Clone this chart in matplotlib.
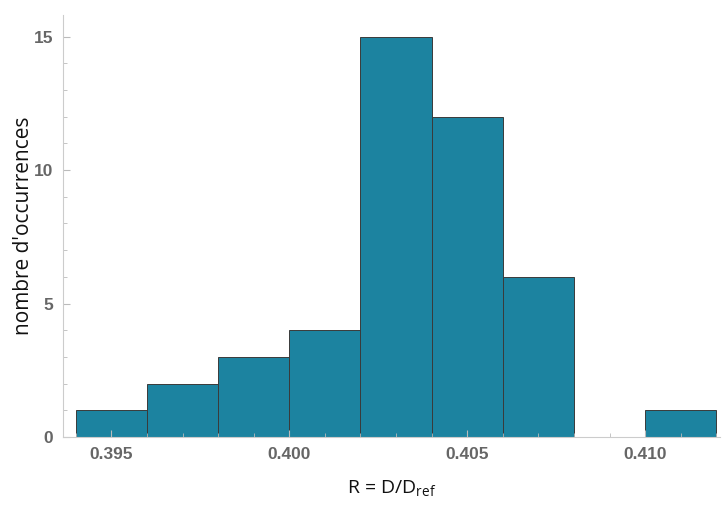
import numpy as np
import matplotlib.pyplot as plt
from matplotlib.ticker import MultipleLocator

# histogram bins (edges) and counts
bin_edges = [0.394, 0.396, 0.398, 0.400, 0.402, 0.404, 0.406, 0.408, 0.410, 0.412]
counts = [1, 2, 3, 4, 15, 12, 6, 0, 1]
x_ticks = [0.395, 0.400, 0.405, 0.410]
y_ticks = [0, 5, 10, 15]

bar_color = '#1c83a0'
tick_color = '#666666'

plt.rcParams['mathtext.fontset'] = 'custom'
plt.rcParams['mathtext.rm'] = 'Open Sans'

fig = plt.figure(figsize=(7.22, 5.08), dpi=100)
ax = fig.add_axes([0.0873, 0.1398, 0.9097, 0.8302])

edges = np.array(bin_edges)
ax.bar(edges[:-1], counts, width=np.diff(edges), align='edge',
       color=bar_color, edgecolor='#3a3a3a', linewidth=0.7)

ax.set_xlim(0.39364, 0.4121)
ax.set_ylim(0, 15.8)

ax.set_xticks(x_ticks)
ax.set_xticklabels([f'{t:.3f}' for t in x_ticks])
ax.set_yticks(y_ticks)
ax.xaxis.set_minor_locator(MultipleLocator(0.001))
ax.yaxis.set_minor_locator(MultipleLocator(1))

for s in ['top', 'right']:
    ax.spines[s].set_visible(False)
for s in ['left', 'bottom']:
    ax.spines[s].set_color('#cccccc')
    ax.spines[s].set_linewidth(0.8)

ax.tick_params(which='both', direction='in', color='#bbbbbb')
ax.tick_params(which='major', length=5, width=0.8, pad=7)
ax.tick_params(which='minor', length=3, width=0.6)
for lab in ax.get_xticklabels() + ax.get_yticklabels():
    lab.set_fontfamily('Liberation Sans')
    lab.set_fontweight('bold')
    lab.set_fontsize(12.5)
    lab.set_color(tick_color)

ax.set_ylabel("nombre d'occurrences", fontfamily='Open Sans', fontsize=15,
              color='#111111', labelpad=0)
ax.set_xlabel(r'R = D/D$_{\mathrm{ref}}$', fontfamily='Open Sans', fontsize=14,
              color='#111111', labelpad=12)

fig.savefig('out.png', dpi=100)
